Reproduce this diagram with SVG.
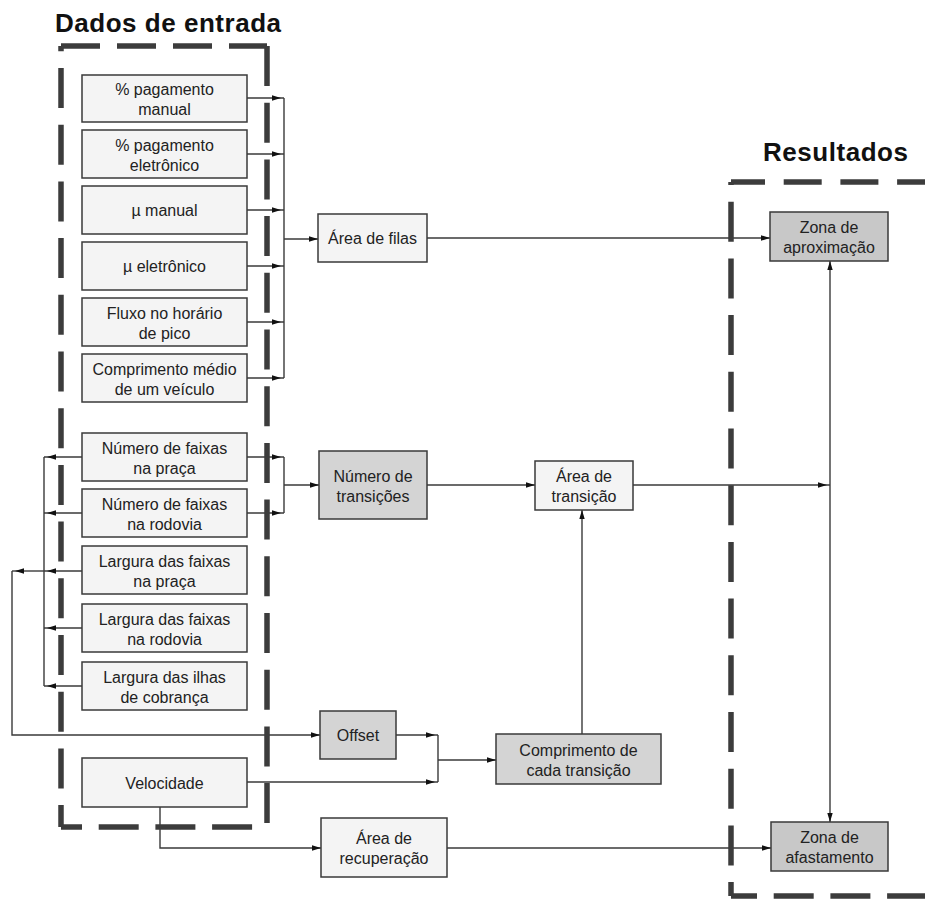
<svg xmlns="http://www.w3.org/2000/svg" width="925" height="900" viewBox="0 0 925 900">
<style>
.bx{fill:#f4f4f4;stroke:#3a3a3a;stroke-width:1.5}
.gr{fill:#d4d4d4;stroke:#3a3a3a;stroke-width:1.5}
.zn{fill:#c8c8c8;stroke:#3a3a3a;stroke-width:1.5}
.t{font-family:"Liberation Sans",Arial,sans-serif;font-size:16px;fill:#222;text-anchor:middle}
.h{font-family:"Liberation Sans",Arial,sans-serif;font-size:26px;font-weight:bold;fill:#111}
.c{fill:none;stroke:#3a3a3a;stroke-width:1.4}
.d{fill:none;stroke:#3c3c3c;stroke-width:5.5;stroke-dasharray:40 16.7}
</style>
<defs>
<marker id="a" markerUnits="userSpaceOnUse" markerWidth="10" markerHeight="8" refX="9" refY="3" orient="auto-start-reverse"><path d="M0,0.3 L9,3 L0,5.7 z" fill="#111"/></marker>
<marker id="j" markerUnits="userSpaceOnUse" markerWidth="13" markerHeight="8" refX="12" refY="3" orient="auto"><path d="M0,0.3 L9,3 L0,5.7 z" fill="#111"/></marker>
</defs>

<g id="connectors">
<path class="c" d="M247,98 H284" marker-end="url(#j)"/>
<path class="c" d="M247,154 H284" marker-end="url(#j)"/>
<path class="c" d="M247,210 H284" marker-end="url(#j)"/>
<path class="c" d="M247,266 H284" marker-end="url(#j)"/>
<path class="c" d="M247,322 H284" marker-end="url(#j)"/>
<path class="c" d="M247,378 H284" marker-end="url(#j)"/>
<path class="c" d="M284,98 V378"/>
<path class="c" d="M284,239 H318" marker-end="url(#a)"/>
<path class="c" d="M427,238 H770" marker-end="url(#a)"/>
<path class="c" d="M247,457 H284" marker-end="url(#j)"/>
<path class="c" d="M247,513 H284" marker-end="url(#j)"/>
<path class="c" d="M284,457 V513"/>
<path class="c" d="M284,485 H319" marker-end="url(#a)"/>
<path class="c" d="M427,485 H535" marker-end="url(#a)"/>
<path class="c" d="M633,485 H830" marker-end="url(#j)"/>
<path class="c" d="M830,261 V822" marker-start="url(#a)" marker-end="url(#a)"/>
<path class="c" d="M82,457 H44" marker-end="url(#j)"/>
<path class="c" d="M82,513 H44" marker-end="url(#j)"/>
<path class="c" d="M82,571 H44" marker-end="url(#j)"/>
<path class="c" d="M82,628 H44" marker-end="url(#j)"/>
<path class="c" d="M82,686 H44" marker-end="url(#j)"/>
<path class="c" d="M44,457 V686"/>
<path class="c" d="M44,571 H12" marker-end="url(#j)"/>
<path class="c" d="M12,571 V735 H320" marker-end="url(#a)"/>
<path class="c" d="M396,735 H438" marker-end="url(#j)"/>
<path class="c" d="M247,782 H438" marker-end="url(#j)"/>
<path class="c" d="M438,735 V782"/>
<path class="c" d="M438,760 H496" marker-end="url(#a)"/>
<path class="c" d="M582,734 V510" marker-end="url(#a)"/>
<path class="c" d="M160,807 V848 H321" marker-end="url(#a)"/>
<path class="c" d="M447,848 H771" marker-end="url(#a)"/>
</g>

<g id="group-dados">
<text class="h" x="55" y="32" textLength="226" lengthAdjust="spacing">Dados de entrada</text>
<line class="d" x1="61" y1="46" x2="267" y2="46" style="stroke-dasharray:39 17"/>
<line class="d" x1="267" y1="46" x2="267" y2="827"/>
<line class="d" x1="61" y1="46" x2="61" y2="827" stroke-dashoffset="34.7"/>
<line class="d" x1="61" y1="827" x2="267" y2="827" stroke-dashoffset="19"/>
</g>

<g id="group-resultados">
<text class="h" x="763" y="161" textLength="145" lengthAdjust="spacing">Resultados</text>
<line class="d" x1="731" y1="182" x2="925" y2="182" style="stroke-dasharray:38 18.7" stroke-dashoffset="4"/>
<line class="d" x1="731" y1="182" x2="731" y2="896" stroke-dashoffset="37"/>
<line class="d" x1="731" y1="896" x2="925" y2="896" stroke-dashoffset="14"/>
</g>

<g id="n1"><rect class="bx" x="82" y="75" width="165" height="47"/><text class="t" x="164.5" y="95">% pagamento</text><text class="t" x="164.5" y="115">manual</text></g>
<g id="n2"><rect class="bx" x="82" y="130" width="165" height="48"/><text class="t" x="164.5" y="150.5">% pagamento</text><text class="t" x="164.5" y="170.5">eletrônico</text></g>
<g id="n3"><rect class="bx" x="82" y="186" width="165" height="48"/><text class="t" x="164.5" y="216">µ manual</text></g>
<g id="n4"><rect class="bx" x="82" y="242" width="165" height="48"/><text class="t" x="164.5" y="272">µ eletrônico</text></g>
<g id="n5"><rect class="bx" x="82" y="298" width="165" height="48"/><text class="t" x="164.5" y="318.5">Fluxo no horário</text><text class="t" x="164.5" y="338.5">de pico</text></g>
<g id="n6"><rect class="bx" x="82" y="354" width="165" height="48"/><text class="t" x="164.5" y="374.5">Comprimento médio</text><text class="t" x="164.5" y="394.5">de um veículo</text></g>
<g id="n7"><rect class="bx" x="82" y="433" width="165" height="48"/><text class="t" x="164.5" y="453.5">Número de faixas</text><text class="t" x="164.5" y="473.5">na praça</text></g>
<g id="n8"><rect class="bx" x="82" y="489" width="165" height="48"/><text class="t" x="164.5" y="509.5">Número de faixas</text><text class="t" x="164.5" y="529.5">na rodovia</text></g>
<g id="n9"><rect class="bx" x="82" y="546" width="165" height="48"/><text class="t" x="164.5" y="566.5">Largura das faixas</text><text class="t" x="164.5" y="586.5">na praça</text></g>
<g id="n10"><rect class="bx" x="82" y="604" width="165" height="48"/><text class="t" x="164.5" y="624.5">Largura das faixas</text><text class="t" x="164.5" y="644.5">na rodovia</text></g>
<g id="n11"><rect class="bx" x="82" y="662" width="165" height="48"/><text class="t" x="164.5" y="682.5">Largura das ilhas</text><text class="t" x="164.5" y="702.5">de cobrança</text></g>
<g id="n12"><rect class="bx" x="82" y="758" width="165" height="49"/><text class="t" x="164.5" y="788.5">Velocidade</text></g>

<g id="area-filas"><rect class="bx" x="318" y="214" width="109" height="48"/><text class="t" x="372.5" y="244">Área de filas</text></g>
<g id="num-transicoes"><rect class="gr" x="319" y="451" width="108" height="68"/><text class="t" x="373" y="481.5">Número de</text><text class="t" x="373" y="501.5">transições</text></g>
<g id="area-transicao"><rect class="bx" x="535" y="461" width="98" height="49"/><text class="t" x="584" y="482">Área de</text><text class="t" x="584" y="502">transição</text></g>
<g id="offset"><rect class="gr" x="320" y="711" width="76" height="48"/><text class="t" x="358" y="741">Offset</text></g>
<g id="comprimento"><rect class="gr" x="496" y="734" width="165" height="50"/><text class="t" x="578.5" y="755.5">Comprimento de</text><text class="t" x="578.5" y="775.5">cada transição</text></g>
<g id="area-recuperacao"><rect class="bx" x="321" y="818" width="126" height="59"/><text class="t" x="384" y="844">Área de</text><text class="t" x="384" y="864">recuperação</text></g>
<g id="zona-aprox"><rect class="zn" x="770" y="212" width="118" height="49"/><text class="t" x="829" y="233">Zona de</text><text class="t" x="829" y="253">aproximação</text></g>
<g id="zona-afast"><rect class="zn" x="771" y="822" width="117" height="49"/><text class="t" x="829.5" y="843">Zona de</text><text class="t" x="829.5" y="863">afastamento</text></g>
</svg>
